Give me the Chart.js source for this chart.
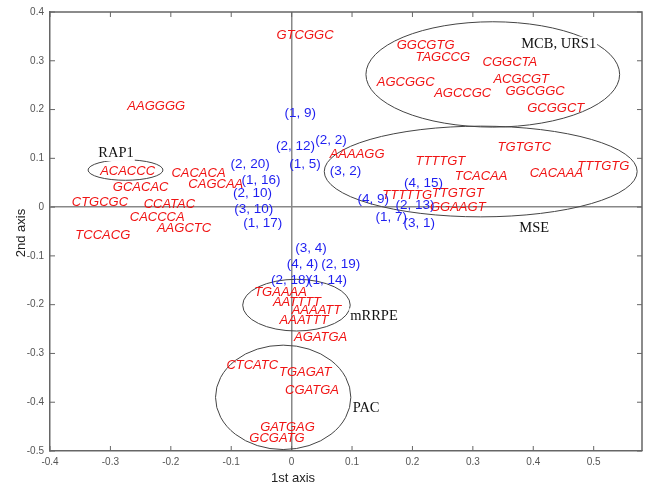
<!DOCTYPE html>
<html>
<head>
<meta charset="utf-8">
<script src="https://cdn.jsdelivr.net/npm/chart.js@4.4.1/dist/chart.umd.min.js"></script>
<style>
  html, body { margin: 0; padding: 0; background: #fff; }
  canvas { display: block; }
</style>
</head>
<body>
<canvas id="chart" width="654" height="488"></canvas>
<script>
// motifs (red, italic)
const motifNames = ['GTCGGC', 'AAGGGG', 'ACACCC', 'CACACA', 'CAGCAA', 'GCACAC', 'CTGCGC', 'CCATAC',
  'CACCCA', 'AAGCTC', 'TCCACG',
  'GGCGTG', 'TAGCCG', 'CGGCTA', 'AGCGGC', 'ACGCGT', 'AGCCGC', 'GGCGGC', 'GCGGCT',
  'AAAAGG', 'TGTGTC', 'TTTTGT', 'TTTGTG', 'TCACAA', 'CACAAA', 'TTTTTG', 'TTGTGT', 'GGAAGT',
  'TGAAAA', 'AATTTT', 'AAAATT', 'AAATTT', 'AGATGA',
  'CTCATC', 'TGAGAT', 'CGATGA', 'GATGAG', 'GCGATG'];
const motifX = [-0.025, -0.272, -0.317, -0.199, -0.171, -0.296, -0.364, -0.245,
  -0.268, -0.223, -0.358,
  0.174, 0.205, 0.316, 0.141, 0.334, 0.236, 0.354, 0.390,
  0.063, 0.341, 0.205, 0.473, 0.270, 0.394, 0.150, 0.232, 0.229,
  -0.062, -0.031, 0.000, -0.020, 0.004,
  -0.108, -0.021, -0.011, -0.052, -0.070];
const motifY = [0.353, 0.206, 0.074, 0.070, 0.046, 0.040, 0.010, 0.006,
  -0.022, -0.044, -0.057,
  0.331, 0.307, 0.296, 0.256, 0.262, 0.234, 0.238, 0.202,
  0.109, 0.123, 0.094, 0.084, 0.063, 0.070, 0.025, 0.029, -0.001,
  -0.174, -0.195, -0.212, -0.232, -0.268,
  -0.324, -0.338, -0.376, -0.452, -0.474];

// (i, j) pairs (blue)
const pairNames = ['(1, 9)', '(2, 12)', '(1, 5)', '(2, 20)', '(1, 16)', '(2, 10)', '(3, 10)', '(1, 17)',
  '(2, 2)', '(3, 2)', '(4, 15)', '(4, 9)', '(2, 13)', '(1, 7)', '(3, 1)',
  '(3, 4)', '(4, 4)', '(2, 19)', '(2, 18)', '(1, 14)'];
const pairX = [-0.012, -0.026, -0.004, -0.101, -0.083, -0.097, -0.095, -0.080,
  0.039, 0.063, 0.186, 0.109, 0.172, 0.139, 0.185,
  0.006, -0.008, 0.049, -0.034, 0.027];
const pairY = [0.193, 0.124, 0.088, 0.088, 0.056, 0.029, -0.005, -0.033,
  0.138, 0.073, 0.048, 0.017, 0.004, -0.021, -0.034,
  -0.085, -0.118, -0.118, -0.150, -0.150];

// cluster names (black)
const groupNames = ['RAP1', 'MCB, URS1', 'MSE', 'mRRPE', 'PAC'];
const groupX = [-0.320, 0.380, 0.377, 0.097, 0.101];
const groupY = [0.111, 0.333, -0.044, -0.224, -0.413];

// cluster ellipses
const ellCx = [-0.275, 0.333, 0.313, 0.008, -0.014];
const ellCy = [0.076, 0.272, 0.073, -0.201, -0.390];
const ellRx = [0.062, 0.210, 0.259, 0.089, 0.112];
const ellRy = [0.021, 0.108, 0.093, 0.053, 0.107];

const toPoints = (xs, ys) => xs.map((x, i) => ({ x, y: ys[i] }));

const ellipsePlugin = {
  id: 'ellipses',
  beforeDatasetsDraw(chart) {
    const { ctx, chartArea: a, scales: { x, y } } = chart;
    ctx.save();
    // box top and right
    ctx.strokeStyle = '#666';
    ctx.lineWidth = 1.5;
    ctx.beginPath();
    ctx.moveTo(a.left, a.top);
    ctx.lineTo(a.right, a.top);
    ctx.lineTo(a.right, a.bottom);
    ctx.stroke();
    // inward ticks
    ctx.lineWidth = 1;
    ctx.beginPath();
    x.ticks.forEach(t => {
      const px = x.getPixelForValue(t.value);
      ctx.moveTo(px, a.bottom); ctx.lineTo(px, a.bottom - 5);
      ctx.moveTo(px, a.top); ctx.lineTo(px, a.top + 5);
    });
    y.ticks.forEach(t => {
      const py = y.getPixelForValue(t.value);
      ctx.moveTo(a.left, py); ctx.lineTo(a.left + 5, py);
      ctx.moveTo(a.right, py); ctx.lineTo(a.right - 5, py);
    });
    ctx.stroke();
    // ellipses
    ctx.strokeStyle = '#444';
    ctx.lineWidth = 1;
    ellCx.forEach((cx, i) => {
      const px = x.getPixelForValue(cx);
      const py = y.getPixelForValue(ellCy[i]);
      const rx = Math.abs(x.getPixelForValue(cx + ellRx[i]) - px);
      const ry = Math.abs(y.getPixelForValue(ellCy[i] + ellRy[i]) - py);
      ctx.beginPath();
      ctx.ellipse(px, py, rx, ry, 0, 0, Math.PI * 2);
      ctx.stroke();
    });
    ctx.restore();
  }
};

const labelPlugin = {
  id: 'pointLabels',
  afterDatasetsDraw(chart) {
    const ctx = chart.ctx;
    ctx.save();
    ctx.textAlign = 'left';
    ctx.textBaseline = 'middle';
    chart.data.datasets.forEach((ds, i) => {
      const meta = chart.getDatasetMeta(i);
      ctx.font = ds.labelFont;
      meta.data.forEach((pt, j) => {
        const txt = ds.labels[j];
        if (ds.labelBg) {
          const w = ctx.measureText(txt).width;
          ctx.fillStyle = '#fff';
          ctx.fillRect(pt.x - 1, pt.y - 8, w + 2, 16);
        }
        ctx.fillStyle = ds.labelColor;
        ctx.fillText(txt, pt.x, pt.y);
      });
    });
    // axis titles
    ctx.fillStyle = '#222';
    ctx.font = '13px "Liberation Sans", Arial, sans-serif';
    ctx.textAlign = 'center';
    ctx.fillText('1st axis', 293, 478);
    ctx.translate(21, 233);
    ctx.rotate(-Math.PI / 2);
    ctx.fillText('2nd axis', 0, 0);
    ctx.restore();
  }
};

const tickFont = { family: '"Liberation Sans", Arial, sans-serif', size: 10 };
const zeroGrid = {
  color: c => (c.tick && c.tick.value === 0 ? '#888' : 'transparent'),
  lineWidth: 1.5,
  drawTicks: false
};

new Chart(document.getElementById('chart'), {
  type: 'scatter',
  data: {
    datasets: [
      { data: toPoints(motifX, motifY), labels: motifNames, labelColor: '#f01414',
        labelFont: 'italic 13px "Liberation Sans", Arial, sans-serif', pointRadius: 0 },
      { data: toPoints(pairX, pairY), labels: pairNames, labelColor: '#1e1ef0',
        labelFont: '13.5px "Liberation Sans", Arial, sans-serif', pointRadius: 0 },
      { data: toPoints(groupX, groupY), labels: groupNames, labelColor: '#111',
        labelFont: '14.5px "Liberation Serif", "Times New Roman", serif', labelBg: true, pointRadius: 0 }
    ]
  },
  options: {
    responsive: false,
    animation: false,
    devicePixelRatio: 1,
    layout: { padding: { top: 12, right: 12, left: 0, bottom: 0 } },
    plugins: { legend: { display: false }, tooltip: { enabled: false } },
    scales: {
      x: {
        type: 'linear', min: -0.4, max: 0.58,
        ticks: { stepSize: 0.1, includeBounds: false, font: tickFont, color: '#555', padding: 5, maxRotation: 0 },
        grid: zeroGrid,
        border: { color: '#666', width: 1.5 },
        afterFit: s => { s.height = 37; }
      },
      y: {
        type: 'linear', min: -0.5, max: 0.4,
        ticks: { stepSize: 0.1, includeBounds: false, font: tickFont, color: '#555', padding: 6 },
        grid: zeroGrid,
        border: { color: '#666', width: 1.5 },
        afterFit: s => { s.width = 50; }
      }
    }
  },
  plugins: [ellipsePlugin, labelPlugin]
});
</script>
</body>
</html>
